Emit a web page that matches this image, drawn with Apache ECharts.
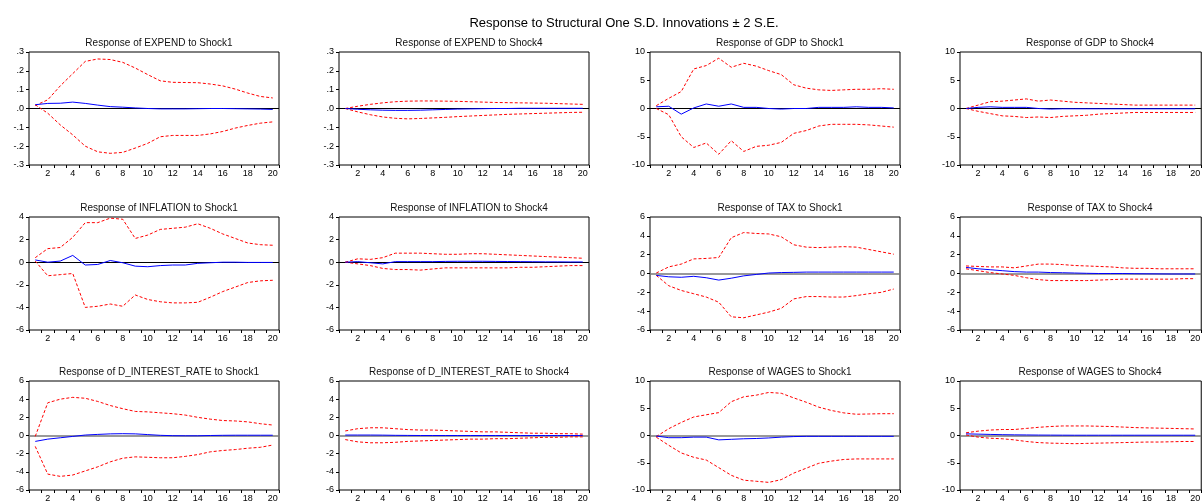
<!DOCTYPE html>
<html>
<head>
<meta charset="utf-8">
<script src="https://cdn.jsdelivr.net/npm/echarts@6/dist/echarts.min.js"></script>
<style>
  html, body { margin: 0; padding: 0; background: #fff; }
  #chart { width: 1203px; height: 503px; }
</style>
</head>
<body>
<div id="chart"></div>
<script>
// periods 1..20
const periods = ["1","2","3","4","5","6","7","8","9","10","11","12","13","14","15","16","17","18","19","20"];

// EXPEND to Shock1
const expendS1 = [0.02,0.027,0.028,0.034,0.027,0.018,0.01,0.007,0.003,0,-0.002,-0.002,-0.002,-0.001,0,0,-0.001,-0.002,-0.003,-0.005];
const expendS1Up = [0.016,0.046,0.12,0.185,0.25,0.263,0.26,0.245,0.215,0.18,0.147,0.139,0.138,0.137,0.13,0.12,0.103,0.082,0.064,0.056];
const expendS1Lo = [0.02,-0.025,-0.087,-0.14,-0.2,-0.23,-0.238,-0.233,-0.21,-0.185,-0.15,-0.143,-0.143,-0.143,-0.135,-0.122,-0.104,-0.09,-0.078,-0.071];

// EXPEND to Shock4
const expendS4 = [0,-0.004,-0.007,-0.009,-0.01,-0.01,-0.009,-0.007,-0.005,-0.003,-0.002,-0.001,0,0,0.001,0.001,0.001,0.001,0.001,0.001];
const expendS4Up = [0,0.012,0.022,0.03,0.036,0.039,0.04,0.04,0.039,0.038,0.036,0.034,0.032,0.031,0.03,0.029,0.028,0.026,0.024,0.022];
const expendS4Lo = [0,-0.018,-0.033,-0.045,-0.052,-0.055,-0.053,-0.05,-0.047,-0.043,-0.04,-0.037,-0.034,-0.031,-0.029,-0.027,-0.025,-0.023,-0.021,-0.02];

// GDP to Shock1
const gdpS1 = [0.3,0.4,-1.0,0.1,0.8,0.4,0.8,0.2,0.2,0.0,-0.1,0,0,0.2,0.2,0.2,0.3,0.2,0.2,0.1];
const gdpS1Up = [0.5,1.8,3.0,7.0,7.6,8.9,7.3,8.0,7.5,6.7,6.0,4.2,3.6,3.3,3.2,3.3,3.4,3.4,3.5,3.4];
const gdpS1Lo = [0,-1.1,-5.0,-6.9,-6.1,-8.1,-5.7,-7.6,-6.7,-6.5,-6.0,-4.4,-3.9,-3.1,-2.8,-2.8,-2.8,-2.9,-3.1,-3.3];

// GDP to Shock4
const gdpS4 = [0,0.2,0.3,0.2,0.2,0.2,0.0,-0.1,-0.05,-0.05,-0.05,-0.05,-0.05,-0.05,-0.05,-0.05,-0.05,-0.05,-0.05,-0.05];
const gdpS4Up = [0,0.6,1.2,1.3,1.5,1.7,1.3,1.5,1.3,1.1,1.0,0.9,0.8,0.7,0.6,0.6,0.6,0.6,0.6,0.6];
const gdpS4Lo = [0,-0.5,-0.9,-1.3,-1.4,-1.6,-1.5,-1.6,-1.4,-1.3,-1.2,-1.0,-0.9,-0.8,-0.7,-0.7,-0.7,-0.7,-0.7,-0.7];

// INFLATION to Shock1
const inflS1 = [0.2,0.0,0.1,0.6,-0.25,-0.2,0.15,-0.05,-0.35,-0.4,-0.3,-0.25,-0.25,-0.1,-0.05,0,0,-0.02,-0.02,-0.02];
const inflS1Up = [0.4,1.2,1.3,2.2,3.5,3.5,3.9,3.8,2.1,2.4,2.9,3.0,3.1,3.4,3.0,2.5,2.1,1.7,1.55,1.5];
const inflS1Lo = [0.1,-1.2,-1.1,-1.0,-4.0,-3.9,-3.7,-3.9,-2.9,-3.3,-3.5,-3.6,-3.6,-3.55,-3.1,-2.6,-2.2,-1.8,-1.65,-1.6];

// INFLATION to Shock4
const inflS4 = [0,0.05,-0.05,-0.15,0.05,0.05,0.05,0.05,0.07,0.08,0.08,0.08,0.07,0.06,0.05,0.04,0.03,0.03,0.02,0.02];
const inflS4Up = [0,0.3,0.25,0.4,0.8,0.8,0.8,0.75,0.7,0.7,0.75,0.75,0.7,0.65,0.6,0.55,0.5,0.45,0.4,0.35];
const inflS4Lo = [0,-0.15,-0.3,-0.55,-0.65,-0.65,-0.7,-0.6,-0.5,-0.5,-0.5,-0.5,-0.5,-0.5,-0.45,-0.45,-0.4,-0.35,-0.3,-0.3];

// TAX to Shock1
const taxS1 = [-0.2,-0.35,-0.4,-0.3,-0.45,-0.7,-0.5,-0.25,-0.1,0.05,0.1,0.12,0.15,0.15,0.15,0.15,0.15,0.15,0.15,0.15];
const taxS1Up = [0.05,0.7,1.0,1.55,1.6,1.7,3.8,4.35,4.25,4.2,3.9,3.05,2.8,2.75,2.8,2.85,2.8,2.55,2.3,2.05];
const taxS1Lo = [-0.2,-1.3,-1.8,-2.15,-2.5,-3.05,-4.6,-4.7,-4.4,-4.1,-3.7,-2.7,-2.45,-2.45,-2.5,-2.5,-2.35,-2.15,-2.0,-1.65];

// TAX to Shock4
const taxS4 = [0.65,0.5,0.4,0.3,0.2,0.15,0.15,0.1,0.08,0.05,0.02,0,0,0,-0.02,-0.03,-0.04,-0.05,-0.05,-0.05];
const taxS4Up = [0.8,0.75,0.7,0.7,0.6,0.8,1.0,1.0,0.95,0.85,0.8,0.75,0.7,0.6,0.55,0.55,0.5,0.5,0.5,0.5];
const taxS4Lo = [0.5,0.3,0.1,-0.05,-0.2,-0.45,-0.65,-0.75,-0.75,-0.75,-0.75,-0.7,-0.65,-0.6,-0.6,-0.6,-0.6,-0.6,-0.55,-0.55];

// D_INTEREST_RATE to Shock1
const irS1 = [-0.65,-0.4,-0.25,-0.1,0.05,0.12,0.18,0.2,0.18,0.1,0.02,-0.02,-0.03,-0.03,0,0.02,0.03,0.03,0.03,0.03];
const irS1Up = [-0.1,3.6,4.0,4.2,4.1,3.75,3.3,2.95,2.65,2.6,2.5,2.4,2.25,2.0,1.8,1.65,1.6,1.5,1.3,1.15];
const irS1Lo = [-1.2,-4.25,-4.5,-4.35,-3.9,-3.45,-2.9,-2.5,-2.35,-2.4,-2.45,-2.45,-2.3,-2.1,-1.8,-1.65,-1.55,-1.4,-1.3,-1.05];

// D_INTEREST_RATE to Shock4
const irS4 = [0.05,0.05,0.05,0.04,0.02,0.01,0,0,0,0,0,0,0,0,0,0,0,0,0,0];
const irS4Up = [0.5,0.75,0.85,0.85,0.75,0.65,0.6,0.6,0.55,0.5,0.45,0.4,0.4,0.35,0.3,0.25,0.25,0.2,0.2,0.15];
const irS4Lo = [-0.45,-0.7,-0.8,-0.8,-0.75,-0.65,-0.6,-0.55,-0.5,-0.45,-0.4,-0.4,-0.35,-0.35,-0.3,-0.25,-0.2,-0.2,-0.15,-0.15];

// WAGES to Shock1
const wagesS1 = [-0.1,-0.4,-0.4,-0.3,-0.3,-0.8,-0.7,-0.6,-0.55,-0.45,-0.3,-0.2,-0.15,-0.15,-0.15,-0.15,-0.15,-0.15,-0.15,-0.15];
const wagesS1Up = [-0.2,1.25,2.4,3.4,3.8,4.2,6.2,7.1,7.4,7.9,7.75,6.9,6.1,5.2,4.6,4.15,3.9,3.95,4.0,4.0];
const wagesS1Lo = [-0.3,-1.8,-3.2,-4.0,-4.5,-5.9,-7.3,-8.2,-8.4,-8.6,-8.1,-6.9,-6.0,-5.1,-4.7,-4.4,-4.3,-4.3,-4.3,-4.3];

// WAGES to Shock4
const wagesS4 = [0.3,0.25,0.2,0.15,0.12,0.1,0.08,0.07,0.06,0.05,0.05,0.05,0.05,0.05,0.05,0.05,0.05,0.05,0.05,0.05];
const wagesS4Up = [0.5,0.8,1.0,1.1,1.1,1.3,1.5,1.65,1.75,1.75,1.75,1.7,1.65,1.55,1.45,1.4,1.35,1.3,1.25,1.2];
const wagesS4Lo = [0.1,-0.3,-0.5,-0.6,-0.8,-1.1,-1.3,-1.4,-1.45,-1.5,-1.45,-1.4,-1.35,-1.3,-1.25,-1.2,-1.2,-1.15,-1.1,-1.1];

const mainTitle = "Response to Structural One S.D. Innovations \u00b1 2 S.E.";

// row-major: [title, resp, upper, lower, ymin, ymax, step]
const panels = [
  ["Response of EXPEND to Shock1", expendS1, expendS1Up, expendS1Lo, -0.3, 0.3, 0.1],
  ["Response of EXPEND to Shock4", expendS4, expendS4Up, expendS4Lo, -0.3, 0.3, 0.1],
  ["Response of GDP to Shock1", gdpS1, gdpS1Up, gdpS1Lo, -10, 10, 5],
  ["Response of GDP to Shock4", gdpS4, gdpS4Up, gdpS4Lo, -10, 10, 5],
  ["Response of INFLATION to Shock1", inflS1, inflS1Up, inflS1Lo, -6, 4, 2],
  ["Response of INFLATION to Shock4", inflS4, inflS4Up, inflS4Lo, -6, 4, 2],
  ["Response of TAX to Shock1", taxS1, taxS1Up, taxS1Lo, -6, 6, 2],
  ["Response of TAX to Shock4", taxS4, taxS4Up, taxS4Lo, -6, 6, 2],
  ["Response of D_INTEREST_RATE to Shock1", irS1, irS1Up, irS1Lo, -6, 6, 2],
  ["Response of D_INTEREST_RATE to Shock4", irS4, irS4Up, irS4Lo, -6, 6, 2],
  ["Response of WAGES to Shock1", wagesS1, wagesS1Up, wagesS1Lo, -10, 10, 5],
  ["Response of WAGES to Shock4", wagesS4, wagesS4Up, wagesS4Lo, -10, 10, 5],
];

const colLeft = [29, 339, 650, 960];
const rowTop = [52, 217, 381];
const plotW = 250, plotH = 113;
const font = "Liberation Sans, Arial, sans-serif";
// zero line is drawn black in the first panels, grey in the later ones
const zeroColor = (i) => (i < 6 ? "#000" : "#777");

const chart = echarts.init(document.getElementById("chart"));

const option = {
  animation: false,
  backgroundColor: "#fff",
  title: [{
    text: mainTitle,
    left: 619, top: 12, textAlign: "center",
    textStyle: { fontFamily: font, fontSize: 13, fontWeight: "normal", color: "#000" },
  }],
  grid: [], xAxis: [], yAxis: [], series: [],
};

panels.forEach((p, i) => {
  const [title, resp, up, lo, ymin, ymax, step] = p;
  const left = colLeft[i % 4], top = rowTop[Math.floor(i / 4)];
  const smallScale = step < 1;

  option.title.push({
    text: title,
    left: left + plotW / 2, top: top - 19, textAlign: "center",
    textStyle: { fontFamily: font, fontSize: 10, fontWeight: "normal", color: "#111" },
  });

  option.grid.push({
    left: left, top: top, width: plotW, height: plotH,
    show: true, borderColor: "#000", borderWidth: 1, containLabel: false,
  });

  option.xAxis.push({
    type: "category", gridIndex: i, data: periods, boundaryGap: true, position: "bottom",
    axisLine: { show: false, onZero: false },
    axisTick: { show: true, interval: 0, length: 3, lineStyle: { color: "#000" } },
    axisLabel: {
      interval: (idx) => idx % 2 === 1, margin: 4,
      fontFamily: font, fontSize: 9, color: "#000",
    },
    splitLine: { show: false },
  });

  option.yAxis.push({
    type: "value", gridIndex: i, min: ymin, max: ymax, interval: step,
    axisLine: { show: false },
    axisTick: { show: true, length: 3, lineStyle: { color: "#000" } },
    axisLabel: {
      margin: 5, fontFamily: font, fontSize: 9, color: "#000",
      formatter: (v) => smallScale ? v.toFixed(1).replace("0.", ".") : String(Math.round(v)),
    },
    splitLine: { show: false },
  });

  const dashed = { color: "#ff0000", width: 1, type: [3, 2] };
  option.series.push(
    {
      type: "line", xAxisIndex: i, yAxisIndex: i, data: up, symbol: "none",
      lineStyle: dashed, silent: true, z: 3,
    },
    {
      type: "line", xAxisIndex: i, yAxisIndex: i, data: lo, symbol: "none",
      lineStyle: dashed, silent: true, z: 3,
    },
    {
      type: "line", xAxisIndex: i, yAxisIndex: i, data: resp, symbol: "none",
      lineStyle: { color: "#0000ff", width: 1 }, silent: true, z: 4,
      markLine: {
        silent: true, symbol: "none", label: { show: false }, z: 2,
        lineStyle: { color: zeroColor(i), width: i < 6 ? 1 : 1.5, type: "solid" },
        data: [{ yAxis: 0 }],
      },
    }
  );
});

chart.setOption(option);
</script>
</body>
</html>
